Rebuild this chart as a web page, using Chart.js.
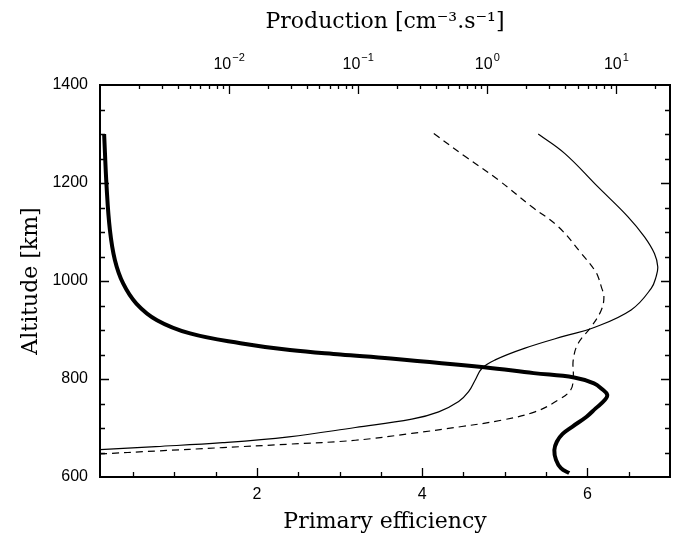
<!DOCTYPE html>
<html>
<head>
<meta charset="utf-8">
<script src="https://cdn.jsdelivr.net/npm/chart.js@4.4.1/dist/chart.umd.min.js"></script>
<style>
  html, body { margin: 0; padding: 0; background: #fff; }
  canvas { display: block; }
</style>
</head>
<body>
<canvas id="profile" width="681" height="543"></canvas>
<script>
// Primary efficiency profile (bottom axis)
const altEfficiency = [1300, 1192, 1104, 1043, 995, 954, 920, 893, 873, 859, 850, 842, 824, 812, 803, 791, 779, 768, 757, 740, 723, 703, 688, 672, 655, 635, 618, 608];
const efficiency = [0.15, 0.18, 0.22, 0.28, 0.38, 0.54, 0.79, 1.19, 1.80, 2.40, 3.01, 3.62, 4.75, 5.35, 5.84, 6.08, 6.18, 6.24, 6.21, 6.10, 5.99, 5.82, 5.70, 5.63, 5.60, 5.62, 5.68, 5.78];

// Production rates, solid and dashed (top log axis)
const altSolid = [1300, 1260, 1192, 1131, 1090, 1056, 1029, 1009, 985, 941, 903, 888, 863, 839, 822, 798, 774, 754, 733, 718, 701, 682, 670, 662, 656];
const prodSolid = [2.48, 3.99, 7.2, 12.3, 16.5, 19.7, 20.9, 20.3, 18.6, 13.0, 6.4, 4.0, 1.96, 1.15, 0.91, 0.806, 0.716, 0.6, 0.42, 0.26, 0.095, 0.029, 0.0089, 0.0027, 0.001];

const altDashed = [1301, 1254, 1206, 1152, 1111, 1056, 1022, 1009, 988, 968, 941, 907, 873, 839, 805, 778, 757, 733, 716, 703, 689, 675, 667, 660, 653, 647];
const prodDashed = [0.385, 0.675, 1.22, 2.2, 3.54, 5.36, 6.79, 7.2, 7.64, 8.0, 7.64, 6.4, 5.06, 4.63, 4.63, 4.43, 3.54, 2.34, 1.29, 0.635, 0.26, 0.095, 0.029, 0.0089, 0.0027, 0.001];

// Axis ranges and labels
const altRange = [600, 1400];
const effRange = [0.1, 7.0];
const effLabels = [2, 4, 6];
const prodRange = [0.001, 26];
const prodDecades = [-2, -1, 0, 1];

const pts = (xs, ys) => xs.map((v, i) => ({ x: v, y: ys[i] }));

Chart.defaults.color = '#000';
Chart.defaults.font.family = '"Liberation Sans", Arial, sans-serif';

const serif = { family: '"DejaVu Serif", serif', size: 22 };
const tickFont = { size: 16 };

// Inward tick marks on all four sides, the plot frame, and 10^n labels on top
const frameTicks = {
  id: 'frameTicks',
  afterDatasetsDraw(chart) {
    const { ctx, chartArea: a, scales } = chart;
    ctx.save();
    ctx.strokeStyle = '#000';
    ctx.lineWidth = 1.3;
    ctx.beginPath();

    for (let v = 0.5; v < effRange[1]; v += 0.5) {
      const x = Math.round(scales.x.getPixelForValue(v)) + 0.5;
      const len = v % 2 === 0 ? 9 : 5;
      ctx.moveTo(x, a.bottom);
      ctx.lineTo(x, a.bottom - len);
    }

    for (let e = -3; e <= 2; e++) {
      for (let m = 1; m <= 9; m++) {
        const v = m * Math.pow(10, e);
        if (v <= prodRange[0] * 1.001 || v >= prodRange[1]) continue;
        const x = Math.round(scales.x2.getPixelForValue(v)) + 0.5;
        const len = m === 1 ? 9 : 4;
        ctx.moveTo(x, a.top);
        ctx.lineTo(x, a.top + len);
      }
    }

    for (let v = altRange[0] + 50; v < altRange[1]; v += 50) {
      const y = Math.round(scales.y.getPixelForValue(v)) + 0.5;
      const len = v % 200 === 0 ? 9 : 5;
      ctx.moveTo(a.left, y);
      ctx.lineTo(a.left + len, y);
      ctx.moveTo(a.right, y);
      ctx.lineTo(a.right - len, y);
    }
    ctx.stroke();

    ctx.lineWidth = 2;
    ctx.strokeRect(a.left, a.top, a.right - a.left, a.bottom - a.top);

    ctx.fillStyle = '#000';
    ctx.textBaseline = 'alphabetic';
    prodDecades.forEach(e => {
      const x = scales.x2.getPixelForValue(Math.pow(10, e));
      const base = '10';
      const exp = e < 0 ? '\u2212' + Math.abs(e) : String(e);
      ctx.font = '16px "Liberation Sans", Arial, sans-serif';
      const wb = ctx.measureText(base).width;
      ctx.font = '11px "Liberation Sans", Arial, sans-serif';
      const we = ctx.measureText(exp).width;
      const x0 = x - (wb + we + 1) / 2;
      ctx.font = '16px "Liberation Sans", Arial, sans-serif';
      ctx.fillText(base, x0, 69);
      ctx.font = '11px "Liberation Sans", Arial, sans-serif';
      ctx.fillText(exp, x0 + wb + 1, 61);
    });
    ctx.restore();
  }
};

new Chart(document.getElementById('profile'), {
  type: 'line',
  data: {
    datasets: [
      {
        label: 'Primary efficiency',
        data: pts(efficiency, altEfficiency),
        xAxisID: 'x',
        borderColor: '#000',
        borderWidth: 4,
        tension: 0.4
      },
      {
        label: 'Production (solid)',
        data: pts(prodSolid, altSolid),
        xAxisID: 'x2',
        borderColor: '#000',
        borderWidth: 1.2,
        tension: 0.4
      },
      {
        label: 'Production (dashed)',
        data: pts(prodDashed, altDashed),
        xAxisID: 'x2',
        borderColor: '#000',
        borderWidth: 1.2,
        borderDash: [7, 5],
        tension: 0.4
      }
    ]
  },
  options: {
    responsive: false,
    animation: false,
    layout: { padding: { right: 11 } },
    elements: { point: { radius: 0 } },
    plugins: { legend: { display: false }, tooltip: { enabled: false } },
    scales: {
      x: {
        type: 'linear',
        position: 'bottom',
        min: effRange[0],
        max: effRange[1],
        grid: { display: false, drawTicks: false },
        border: { display: false },
        afterBuildTicks: s => { s.ticks = effLabels.map(v => ({ value: v })); },
        afterFit: s => { s.height = 66; },
        ticks: { font: tickFont, padding: 8, maxRotation: 0, callback: v => String(v) },
        title: { display: true, text: 'Primary efficiency', font: serif, padding: { bottom: 8 } }
      },
      x2: {
        type: 'logarithmic',
        position: 'top',
        min: prodRange[0],
        max: prodRange[1],
        grid: { display: false, drawTicks: false },
        border: { display: false },
        ticks: { display: false },
        afterFit: s => { s.height = 85; },
        title: { display: true, text: 'Production [cm\u207B\u00B3.s\u207B\u00B9]', font: serif, padding: { top: 9 } }
      },
      y: {
        type: 'linear',
        position: 'left',
        min: altRange[0],
        max: altRange[1],
        grid: { display: false, drawTicks: false },
        border: { display: false },
        ticks: { stepSize: 200, font: tickFont, padding: 12, callback: v => String(v) },
        afterFit: s => { s.width = 100; },
        title: { display: true, text: 'Altitude [km]', font: serif, padding: { top: 18 } }
      }
    }
  },
  plugins: [frameTicks]
});
</script>
</body>
</html>
